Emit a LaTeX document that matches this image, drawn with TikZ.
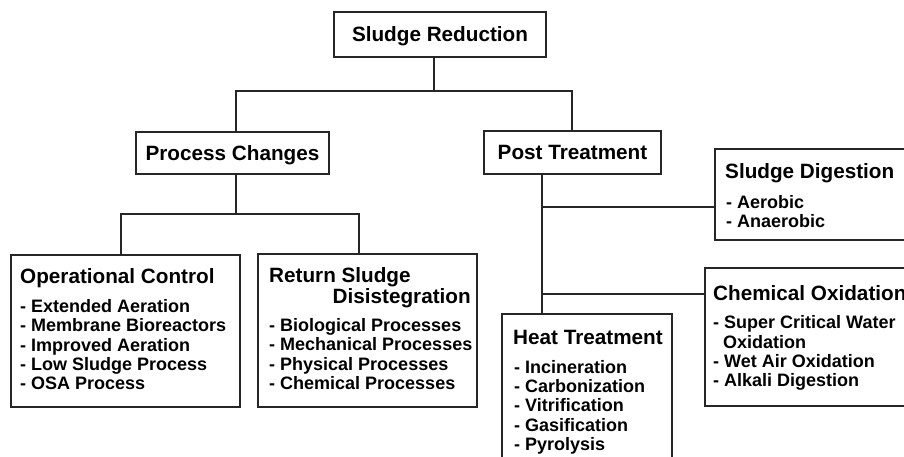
\documentclass[tikz,border=0pt]{standalone}
\usepackage{fontspec}
\setmainfont{Liberation Sans}
\usetikzlibrary{calc}
\tikzset{
  box/.style={draw=black!85, line width=1.2pt, rectangle, inner sep=0pt},
  conn/.style={draw=black!85, line width=1.2pt},
  titlebox/.style={box, font=\fontsize{20.7}{21}\selectfont\bfseries, text height=14.8pt, text depth=0pt},
  head/.style={font=\fontsize{20.7}{21}\selectfont\bfseries, inner sep=0pt, anchor=base west, align=left},
  items/.style={font=\fontsize{18}{19.2}\selectfont\bfseries, inner sep=0pt, anchor=base west, align=left},
}
\begin{document}
\begin{tikzpicture}[x=1pt,y=-1pt]
\path[use as bounding box] (0,0) rectangle (904,457);
\clip (0,0) rectangle (904,457);

% title boxes
\node[titlebox, minimum width=212pt, minimum height=45pt] (sr) at (440,34.5) {Sludge Reduction};
\node[titlebox, minimum width=193pt, minimum height=42pt] (pc) at (232.5,153) {Process Changes};
\node[titlebox, minimum width=177pt, minimum height=43pt] (pt) at (572.5,152.5) {Post Treatment};

% content boxes
\node[box, minimum width=229pt, minimum height=152pt] (oc) at (125.5,331) {};
\node[box, minimum width=219pt, minimum height=153pt] (rs) at (367.5,330.5) {};
\node[box, minimum width=215pt, minimum height=91pt] (sd) at (822.5,194.5) {};
\node[box, minimum width=225pt, minimum height=138pt] (co) at (817.5,337) {};
\node[box, minimum width=170pt, minimum height=166pt] (ht) at (587,397) {};

% texts (base anchor = baseline of the last line)
\node[head] (octitle) at (20,283.5) {Operational Control};
\node[items] (ocitems) at (20,389.5) {- Extended Aeration\\- Membrane Bioreactors\\- Improved Aeration\\- Low Sludge Process\\- OSA Process};

\node[head] (rstitle) at (269,303) {Return Sludge\\\hspace*{63.5pt}Disistegration};
\node[items] (rsitems) at (269,389.3) {- Biological Processes\\- Mechanical Processes\\- Physical Processes\\- Chemical Processes};

\node[head] (httitle) at (513,344) {Heat Treatment};
\node[items] (htitems) at (514,450.3) {- Incineration\\- Carbonization\\- Vitrification\\- Gasification\\- Pyrolysis};

\node[head] (sdtitle) at (725,178.3) {Sludge Digestion};
\node[items] (sditems) at (726,227.5) {- Aerobic\\- Anaerobic};

\node[head] (cotitle) at (713,300.7) {Chemical Oxidation};
\node[items] (coitems) at (713,386.5) {- Super Critical Water\\\hspace*{10pt}Oxidation\\- Wet Air Oxidation\\- Alkali Digestion};

% connectors
\coordinate (a1) at (434,91);
\coordinate (a2) at (236,91);
\coordinate (a3) at (572,91);
\draw[conn] (sr.south -| a1) -- (a1);
\draw[conn] (pc.north -| a2) |- (a3) -- (pt.north -| a3);

\coordinate (b1) at (236,214);
\coordinate (b2) at (121,214);
\coordinate (b3) at (359,214);
\draw[conn] (pc.south -| b1) -- (b1);
\draw[conn] (oc.north -| b2) |- (b3) -- (rs.north -| b3);

\coordinate (c1) at (542,207);
\coordinate (c2) at (542,294);
\draw[conn] (pt.south -| c1) -- (ht.north -| c1);
\draw[conn] (c1) -- (sd.west |- c1);
\draw[conn] (c2) -- (co.west |- c2);
\end{tikzpicture}
\end{document}
